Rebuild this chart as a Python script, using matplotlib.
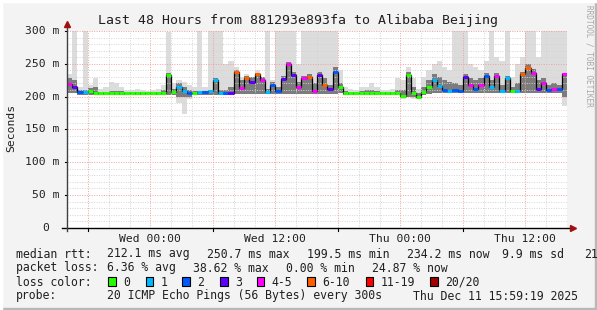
import matplotlib.pyplot as plt
import numpy as np
from matplotlib.patches import Rectangle

W, H = 597, 310

# 48 hours of data in 30 minute bins, starting Tue 16:00
median = [
    219, 214, 207, 207, 208, 206, 205, 205, 205, 205,
    205, 205, 205, 205, 205, 205, 205, 205, 205, 233,
    207, 214, 209, 206, 206, 207, 207, 208, 226, 206,
    205, 206, 238, 213, 228, 222, 234, 226, 207, 218,
    208, 227, 249, 233, 214, 228, 230, 209, 233, 217,
    212, 238, 215, 205, 205, 205, 205, 205, 205, 205,
    205, 205, 205, 205, 201, 233, 205, 199, 207, 215,
    226, 216, 210, 209, 210, 209, 230, 218, 212, 217,
    232, 214, 232, 208, 228, 208, 209, 234, 244, 236,
    212, 220, 210, 212, 211, 234]

loss = [
    4, 3, 2, 1, 0, 0, 0, 0, 0, 0,
    0, 0, 0, 0, 0, 0, 0, 0, 0, 0,
    0, 1, 1, 2, 0, 1, 2, 1, 1, 1,
    2, 3, 5, 4, 5, 3, 5, 4, 1, 2,
    2, 3, 4, 3, 4, 4, 5, 4, 3, 5,
    3, 2, 0, 0, 0, 0, 0, 0, 0, 0,
    0, 0, 0, 0, 0, 0, 0, 0, 0, 0,
    1, 1, 2, 1, 2, 2, 3, 4, 2, 4,
    2, 1, 4, 1, 1, 0, 1, 5, 5, 4,
    3, 4, 2, 4, 2, 4]

smoke_lo = [
    205, 206, 203, 203, 203, 203, 203, 203, 203, 203,
    203, 203, 203, 203, 203, 203, 203, 203, 203, 203,
    203, 190, 174, 196, 203, 203, 203, 203, 203, 203,
    203, 203, 204, 204, 204, 204, 204, 204, 204, 204,
    204, 204, 204, 204, 204, 204, 204, 204, 204, 204,
    204, 204, 205, 203, 203, 203, 203, 203, 203, 203,
    203, 203, 203, 203, 197, 199, 196, 196, 202, 204,
    205, 205, 205, 205, 205, 205, 205, 205, 205, 205,
    205, 205, 205, 205, 205, 205, 205, 205, 205, 205,
    205, 205, 205, 205, 205, 186]

smoke_hi = [
    235, 320, 215, 320, 218, 228, 212, 215, 222, 220,
    215, 210, 210, 212, 210, 208, 210, 212, 218, 298,
    220, 225, 222, 218, 215, 320, 215, 320, 320, 320,
    250, 255, 245, 230, 235, 230, 240, 230, 320, 225,
    320, 320, 320, 320, 250, 320, 320, 320, 320, 320,
    320, 320, 240, 215, 212, 210, 215, 215, 220, 215,
    210, 210, 212, 228, 225, 245, 228, 212, 230, 240,
    250, 255, 245, 240, 320, 320, 320, 250, 245, 240,
    255, 320, 260, 255, 320, 230, 250, 260, 320, 320,
    260, 320, 320, 320, 320, 320]

smoke_dark = [
    228, 225, 210, 210, 213, 215, 207, 207, 209, 209,
    208, 207, 207, 207, 207, 207, 207, 207, 210, 236,
    212, 220, 214, 210, 209, 209, 209, 210, 228, 210,
    210, 215, 240, 225, 232, 230, 236, 230, 212, 222,
    215, 232, 252, 238, 222, 232, 234, 220, 238, 228,
    218, 245, 220, 208, 207, 207, 208, 210, 210, 208,
    207, 207, 207, 210, 210, 238, 215, 205, 215, 225,
    235, 230, 225, 222, 220, 218, 235, 228, 225, 228,
    236, 225, 236, 218, 232, 215, 220, 238, 250, 242,
    225, 228, 218, 220, 218, 236]

loss_colors = ['#26ff00', '#00b8ff', '#0059ff', '#5e00ff',
               '#ff00ff', '#ff5e00', '#ff0000', '#a10000']
loss_labels = ['0', '1', '2', '3', '4-5', '6-10', '11-19', '20/20']

tick_hours = [8, 20, 32, 44]
tick_labels = ['Wed 00:00', 'Wed 12:00', 'Thu 00:00', 'Thu 12:00']
y_ticks = [0, 50, 100, 150, 200, 250, 300]
y_labels = ['0', '50 m', '100 m', '150 m', '200 m', '250 m', '300 m']

mono = 'DejaVu Sans Mono'
txt = '#202020'

fig = plt.figure(figsize=(W / 100, H / 100), dpi=100)
fig.patch.set_facecolor('#f3f3f3')


def px(x, y):
    return x / W, 1 - y / H


# frame of the canvas
fig.patches.append(Rectangle((0, 0), 1, 2 / H, transform=fig.transFigure, color='#b8b8b8'))
fig.patches.append(Rectangle((1 - 2 / W, 0), 2 / W, 1, transform=fig.transFigure, color='#b8b8b8'))
fig.patches.append(Rectangle((0, 1 - 2 / H), 1, 2 / H, transform=fig.transFigure, color='#ffffff'))
fig.patches.append(Rectangle((0, 0), 2 / W, 1, transform=fig.transFigure, color='#ffffff'))

left, right = 67, 567
top, bottom = 31, 227.8
ax = fig.add_axes([left / W, 1 - bottom / H, (right - left) / W, (bottom - top) / H])
ax.set_facecolor('white')
ax.set_xlim(0, 48)
ax.set_ylim(0, 300)
for s in ax.spines.values():
    s.set_visible(False)
ax.set_xticks([])
ax.set_yticks([])

edges = np.linspace(0, 48, len(median) + 1)

# smoke
ax.stairs(smoke_hi, edges, baseline=smoke_lo, fill=True, color='#dcdcdc', lw=0, zorder=1)
ax.stairs(smoke_dark, edges, baseline=np.maximum(smoke_lo, 200), fill=True,
          color='#7c7c7c', lw=0, zorder=1.2)

# grid
for v in range(10, 301, 10):
    major = v % 50 == 0
    ax.axhline(v, color='#f2a0a0' if major else '#d4d4d4', lw=0.7,
               ls=(0, (1, 1.5)), zorder=1.5)
for h in range(2, 48, 2):
    major = (h - 2) % 6 == 0
    ax.axvline(h, color='#f2a0a0' if major else '#d4d4d4', lw=0.7,
               ls=(0, (1, 1.5)), zorder=1.5)

# median line coloured by loss
ax.stairs(median, edges, baseline=None, color='black', lw=0.9, zorder=3)
ax.hlines(median, edges[:-1], edges[1:], colors=[loss_colors[i] for i in loss],
          lw=2.2, zorder=4)

# axes lines and arrows
ax.plot([-0.01, 1.01], [0, 0], transform=ax.transAxes, color='black', lw=1, clip_on=False, zorder=5)
ax.plot([0, 0], [-0.015, 1.03], transform=ax.transAxes, color='#404040', lw=1, clip_on=False, zorder=5)
ax.plot(1.012, 0, marker='>', ms=4, color='#a01010', transform=ax.transAxes, clip_on=False, zorder=6)
ax.plot(0, 1.035, marker='^', ms=4, color='#a01010', transform=ax.transAxes, clip_on=False, zorder=6)
for h in [2, 14, 26, 38]:
    ax.plot([h, h], [0, -0.016], transform=ax.get_xaxis_transform(), color='black', lw=0.8, clip_on=False)
for v in y_ticks[1:]:
    ax.plot([-0.005, 0], [v, v], transform=ax.get_yaxis_transform(), color='black', lw=0.8, clip_on=False)

# tick labels
for h, lab in zip(tick_hours, tick_labels):
    ax.text(h, -0.07, lab, transform=ax.get_xaxis_transform(), ha='center', va='baseline',
            family=mono, fontsize=8.2, color=txt)
for v, lab in zip(y_ticks, y_labels):
    xr = 49 if lab == '0' else 59
    ax.text((xr - left) / (right - left), v, lab, transform=ax.get_yaxis_transform(),
            ha='right', va='center', family=mono, fontsize=8.2, color=txt)

fig.text(*px(11, 128), 'Seconds', rotation=90, ha='center', va='center',
         family=mono, fontsize=8.2, color=txt)

# title
fig.text(*px(297.5, 24), 'Last 48 Hours from 881293e893fa to Alibaba Beijing',
         ha='center', va='baseline', family=mono, fontsize=9.5, color=txt)

# watermark
fig.text(*px(589, 5), 'RRDTOOL / TOBI OETIKER', rotation=270, ha='center', va='top',
         family=mono, fontsize=5.6, color='#a8a8a8')

# legend block
rows = [
    (257.5, [(16, 'median rtt:'), (107, '212.1 ms avg'), (207, '250.7 ms max'),
             (307, '199.5 ms min'), (407, '234.2 ms now'), (502, '9.9 ms sd'),
             (584, '21')]),
    (271.5, [(16, 'packet loss:'), (107, '6.36 % avg'), (193, '38.62 % max'),
             (286.5, '0.00 % min'), (372, '24.87 % now')]),
    (285.5, [(16, 'loss color:')]),
    (299.5, [(16, 'probe:'), (107, '20 ICMP Echo Pings (56 Bytes) every 300s'),
             (413, 'Thu Dec 11 15:59:19 2025')]),
]
for y, items in rows:
    for x, s in items:
        fig.text(*px(x, y), s, ha='left', va='baseline', family=mono,
                 fontsize=8.3, color=txt)

box_x = [108, 145.5, 182.5, 220, 256.5, 307, 365.5, 430]
for bx, col, lab in zip(box_x, loss_colors, loss_labels):
    fx, fy = px(bx, 286)
    fig.patches.append(Rectangle((fx, fy), 7.5 / W, 9 / H, transform=fig.transFigure,
                                 facecolor=col, edgecolor='black', lw=0.8))
    fig.text(*px(bx + 15, 285.5), lab, ha='left', va='baseline', family=mono,
             fontsize=8.3, color=txt)

fig.savefig('out.png', dpi=100, facecolor=fig.get_facecolor())
